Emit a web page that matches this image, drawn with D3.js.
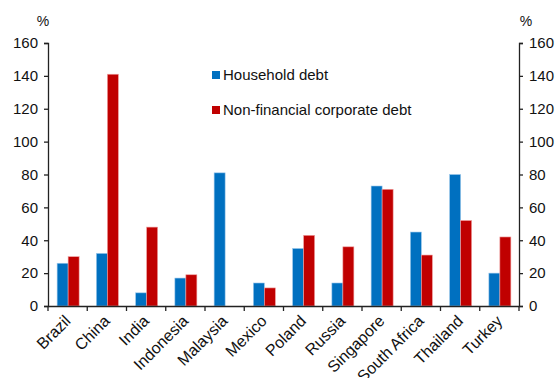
<!DOCTYPE html>
<html>
<head>
<meta charset="utf-8">
<script src="https://cdn.jsdelivr.net/npm/d3@7/dist/d3.min.js"></script>
<style>
  body { margin: 0; background: #fff; }
  svg text { font-family: "Liberation Sans", Arial, sans-serif; fill: #111; }
</style>
</head>
<body>
<div id="chart"></div>
<script>
  // chart data
  const countries = ['Brazil', 'China', 'India', 'Indonesia', 'Malaysia', 'Mexico',
    'Poland', 'Russia', 'Singapore', 'South Africa', 'Thailand', 'Turkey'];
  const household = [26, 32, 8, 17, 81, 14, 35, 14, 73, 45, 80, 20];
  const corporate = [30, 141, 48, 19, null, 11, 43, 36, 71, 31, 52, 42];
  const yTicks = [0, 20, 40, 60, 80, 100, 120, 140, 160];
  const seriesNames = ['Household debt', 'Non-financial corporate debt'];
  const colors = ['#0070C0', '#C00000'];

  const W = 557, H = 378;
  const margin = {top: 43, right: 38, bottom: 72, left: 48};
  const width = W - margin.left - margin.right;
  const height = H - margin.top - margin.bottom;

  const svg = d3.select('#chart').append('svg')
    .attr('width', W)
    .attr('height', H);
  const g = svg.append('g')
    .attr('transform', `translate(${margin.left},${margin.top})`);

  const x = d3.scaleBand().domain(countries).range([0, width]);
  const x1 = d3.scaleBand().domain([0, 1]).range([0, 22]);
  const y = d3.scaleLinear().domain([0, 160]).range([height, 0]);

  // bars
  const groups = g.selectAll('.grp')
    .data(countries)
    .enter().append('g')
    .attr('transform', d => `translate(${x(d) + x.bandwidth() / 2 - 11 + 0.5},0)`);

  [household, corporate].forEach((vals, s) => {
    groups.filter((d, i) => vals[i] != null)
      .append('rect')
      .attr('x', x1(s))
      .attr('width', x1.bandwidth())
      .attr('y', d => y(vals[countries.indexOf(d)]))
      .attr('height', d => height - y(vals[countries.indexOf(d)]))
      .attr('fill', colors[s])
      .attr('stroke', s === 0 ? '#9cc8ec' : '#f0a0a0')
      .attr('stroke-width', 0.6);
  });

  // left + right axes
  const yLeft = g.append('g')
    .call(d3.axisLeft(y).tickValues(yTicks).tickSize(4).tickPadding(6));
  const yRight = g.append('g')
    .attr('transform', `translate(${width},0)`)
    .call(d3.axisRight(y).tickValues(yTicks).tickSize(4).tickPadding(6));
  [yLeft, yRight].forEach(a => {
    a.select('.domain').attr('stroke', '#222').attr('stroke-width', 1.3);
    a.selectAll('.tick line').attr('stroke', '#222').attr('stroke-width', 1.3);
    a.selectAll('text').style('font-size', '15px').style('fill', '#111');
  });

  // x axis
  const xAxis = g.append('g')
    .attr('transform', `translate(0,${height})`)
    .call(d3.axisBottom(x).tickSize(0).tickFormat(''));
  xAxis.select('.domain').attr('stroke', '#222').attr('stroke-width', 1.3);
  xAxis.selectAll('.tick').remove();
  xAxis.selectAll('.sep')
    .data(d3.range(countries.length + 1))
    .enter().append('line')
    .attr('x1', i => i * x.step())
    .attr('x2', i => i * x.step())
    .attr('y1', 0).attr('y2', 5)
    .attr('stroke', '#222').attr('stroke-width', 1.3);

  g.selectAll('.xlab')
    .data(countries)
    .enter().append('text')
    .attr('transform', d => `translate(${x(d) + x.bandwidth() / 2 + 4},${height + 16}) rotate(-45)`)
    .attr('text-anchor', 'end')
    .style('font-size', '16px')
    .text(d => d);

  // unit labels
  svg.append('text').attr('x', 43).attr('y', 26).attr('text-anchor', 'middle')
    .style('font-size', '14px').text('%');
  svg.append('text').attr('x', 526).attr('y', 26).attr('text-anchor', 'middle')
    .style('font-size', '14px').text('%');

  // legend
  const legend = svg.append('g').attr('transform', 'translate(212,71)');
  seriesNames.forEach((name, i) => {
    const row = legend.append('g').attr('transform', `translate(0,${i * 35})`);
    row.append('rect').attr('width', 8).attr('height', 8).attr('fill', colors[i]);
    row.append('text').attr('x', 11).attr('y', 9)
      .style('font-size', '15px').text(name);
  });
</script>
</body>
</html>
